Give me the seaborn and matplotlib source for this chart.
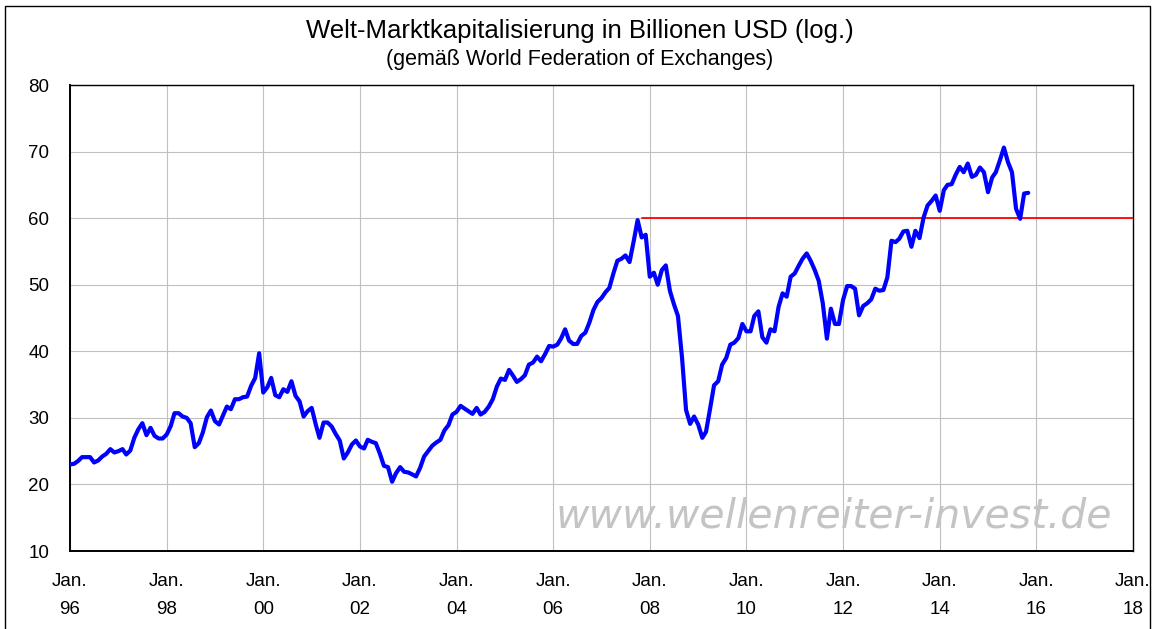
import matplotlib
matplotlib.use("Agg")
import matplotlib.pyplot as plt
from matplotlib.patches import Rectangle
import pandas as pd
import seaborn as sns

title = "Welt-Marktkapitalisierung in Billionen USD (log.)"
subtitle = "(gemäß World Federation of Exchanges)"
watermark = "www.wellenreiter-invest.de"

# Monthly world market capitalisation (trillion USD), starting January 1996
series_start = "1996-01-01"
cap_1996_1999 = [
    23.0, 23.1, 23.5, 24.1, 24.1, 24.1, 23.3, 23.6, 24.2, 24.6, 25.3, 24.8,
    25.0, 25.3, 24.5, 25.1, 27.0, 28.3, 29.2, 27.4, 28.5, 27.3, 26.9, 26.9,
    27.5, 28.8, 30.7, 30.7, 30.2, 30.0, 29.2, 25.6, 26.2, 27.8, 30.1, 31.1,
    29.5, 29.0, 30.3, 31.7, 31.3, 32.8, 32.8, 33.1, 33.2, 34.8, 36.0, 39.7,
]
cap_2000_2003 = [
    33.8, 34.6, 36.0, 33.4, 33.1, 34.3, 33.9, 35.5, 33.3, 32.5, 30.2, 31.0,
    31.5, 29.0, 27.0, 29.3, 29.3, 28.7, 27.6, 26.6, 23.9, 24.8, 26.0, 26.6,
    25.7, 25.4, 26.7, 26.4, 26.2, 24.6, 22.8, 22.6, 20.4, 21.7, 22.6, 21.9,
    21.8, 21.5, 21.2, 22.5, 24.2, 25.0, 25.8, 26.3, 26.7, 28.1, 28.9, 30.5,
]
cap_2004_2007 = [
    30.9, 31.8, 31.4, 31.0, 30.6, 31.5, 30.5, 30.9, 31.7, 32.8, 34.7, 35.9,
    35.7, 37.2, 36.4, 35.4, 35.8, 36.4, 38.0, 38.3, 39.2, 38.5, 39.6, 40.8,
    40.7, 41.0, 41.9, 43.3, 41.6, 41.1, 41.1, 42.3, 42.8, 44.3, 46.2, 47.4,
    48.0, 48.9, 49.5, 51.7, 53.6, 53.9, 54.4, 53.4, 56.5, 59.7, 57.1, 57.5,
]
cap_2008_2011 = [
    51.2, 51.8, 50.0, 52.2, 52.9, 49.1, 47.1, 45.3, 39.0, 31.2, 29.1, 30.2,
    29.0, 27.0, 27.9, 31.4, 34.9, 35.5, 38.0, 39.0, 41.0, 41.3, 42.0, 44.1,
    43.0, 43.0, 45.3, 46.0, 42.1, 41.3, 43.3, 43.0, 46.7, 48.7, 48.2, 51.2,
    51.7, 52.9, 53.9, 54.7, 53.6, 52.2, 50.6, 47.2, 41.9, 46.4, 44.1, 44.1,
]
cap_2012_2015 = [
    47.7, 49.8, 49.8, 49.4, 45.4, 46.8, 47.2, 47.8, 49.4, 49.1, 49.2, 51.1,
    56.6, 56.4, 56.9, 58.0, 58.1, 55.7, 58.1, 57.0, 60.1, 61.9, 62.6, 63.4,
    61.1, 64.2, 65.0, 65.1, 66.5, 67.7, 66.9, 68.2, 66.2, 66.5, 67.6, 66.9,
    63.9, 66.1, 66.9, 68.7, 70.6, 68.4, 66.9, 61.4, 59.9, 63.7, 63.8,
]

# Horizontal resistance line at the 2007 high
resistance_level = 60
resistance_from = "2007-11-01"
resistance_to = "2018-01-01"

y_ticks = [10, 20, 30, 40, 50, 60, 70, 80]
x_tick_years = list(range(1996, 2019, 2))

values = cap_1996_1999 + cap_2000_2003 + cap_2004_2007 + cap_2008_2011 + cap_2012_2015
df = pd.DataFrame({
    "Datum": pd.date_range(series_start, periods=len(values), freq="MS"),
    "Kapitalisierung": values,
})
df_res = pd.DataFrame({
    "Datum": pd.to_datetime([resistance_from, resistance_to]),
    "Kapitalisierung": [resistance_level, resistance_level],
})

sns.set_style("white")
plt.rcParams["font.family"] = ["Liberation Sans", "DejaVu Sans"]

W, H = 1156, 629
fig = plt.figure(figsize=(W / 100, H / 100), dpi=100)
ax = fig.add_axes([70 / W, (H - 551) / H, 1063 / W, 466 / H])

sns.lineplot(data=df_res, x="Datum", y="Kapitalisierung", ax=ax,
             color="#ff0000", linewidth=1.3, zorder=3)
sns.lineplot(data=df, x="Datum", y="Kapitalisierung", ax=ax,
             color="#0000ff", linewidth=3.0, zorder=4)

ax.set_xlim(pd.Timestamp(f"{x_tick_years[0]}-01-01"), pd.Timestamp(f"{x_tick_years[-1]}-01-01"))
ax.set_ylim(y_ticks[0], y_ticks[-1])
ax.set_yticks(y_ticks)
ax.set_yticklabels([str(v) for v in y_ticks])
ax.set_xticks(pd.to_datetime([f"{y}-01-01" for y in x_tick_years]))
ax.set_xticklabels([f"Jan.\n{y % 100:02d}" for y in x_tick_years], linespacing=1.85)
ax.set_xlabel("")
ax.set_ylabel("")

ax.grid(True, color="#c0c0c0", linewidth=0.8)
ax.set_axisbelow(True)
for side in ax.spines:
    ax.spines[side].set_visible(True)
    ax.spines[side].set_color("black")
    ax.spines[side].set_linewidth(1.0)
ax.spines["left"].set_linewidth(1.4)
ax.spines["bottom"].set_linewidth(1.4)

ax.tick_params(axis="both", which="major", direction="out", length=5, width=1,
               color="black", labelsize=13.5, labelcolor="black")
ax.tick_params(axis="y", pad=10)
ax.tick_params(axis="x", pad=11)

ax.text(0.4565, 0.075, watermark, transform=ax.transAxes,
        fontsize=29.5, color="#c4c4c4", style="italic", family="DejaVu Sans",
        ha="left", va="center", zorder=2)

fig.text(580 / W, 1 - 31 / H, title, ha="center", va="center", fontsize=18.5, color="black")
fig.text(580 / W, 1 - 60 / H, subtitle, ha="center", va="center", fontsize=15.5, color="black")

fig.patches.append(Rectangle((5 / W, -0.01), (1150 - 5) / W, 1.01 - 6 / H,
                             transform=fig.transFigure, fill=False,
                             edgecolor="black", linewidth=1.0))

fig.savefig("out.png", dpi=100)
